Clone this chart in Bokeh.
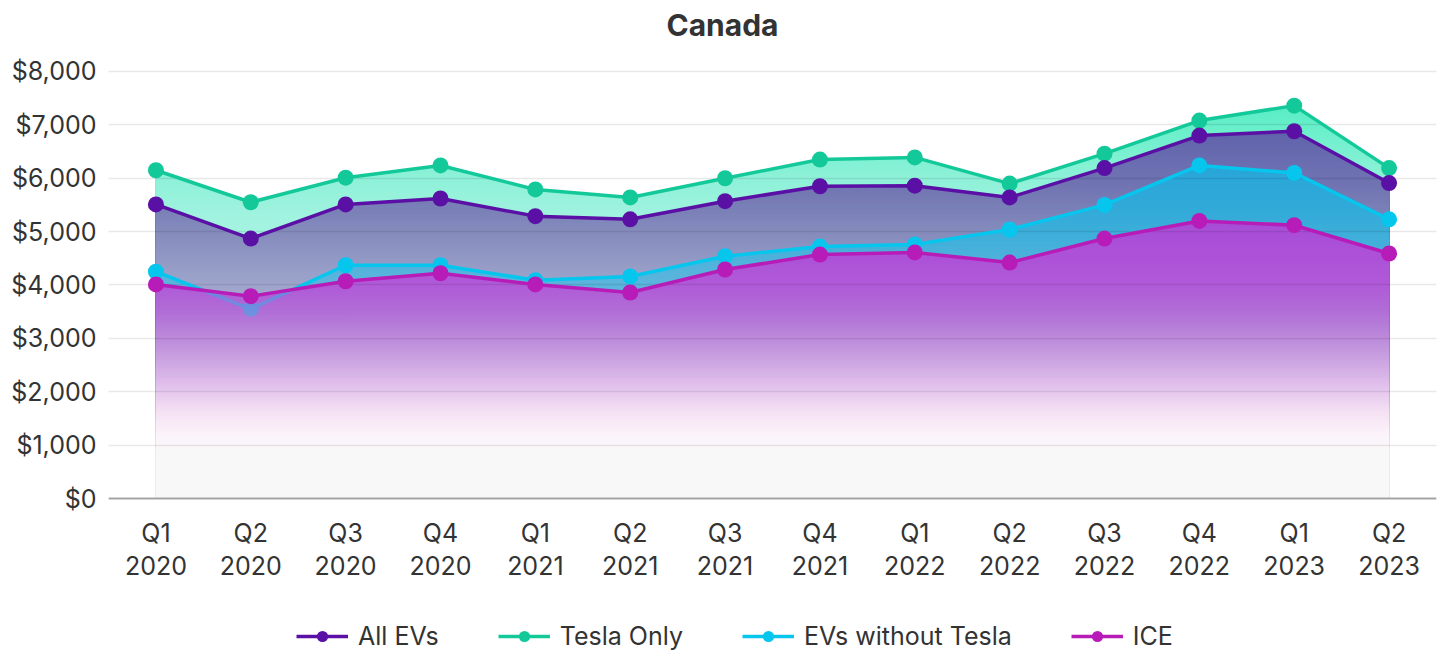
import numpy as np
from bokeh.plotting import figure
from bokeh.models import (Range1d, FixedTicker, NumeralTickFormatter, Legend,
                          LegendItem)
from bokeh.embed import file_html
from bokeh.resources import INLINE

# ---------------- data ----------------
quarters = ["Q1\n2020", "Q2\n2020", "Q3\n2020", "Q4\n2020",
            "Q1\n2021", "Q2\n2021", "Q3\n2021", "Q4\n2021",
            "Q1\n2022", "Q2\n2022", "Q3\n2022", "Q4\n2022",
            "Q1\n2023", "Q2\n2023"]
all_evs = [5510, 4870, 5510, 5620, 5290, 5230, 5570, 5850, 5860, 5640, 6190, 6800, 6880, 5910]
tesla_only = [6150, 5550, 6010, 6240, 5790, 5640, 6000, 6350, 6390, 5900, 6460, 7080, 7360, 6190]
evs_without_tesla = [4250, 3550, 4370, 4370, 4090, 4160, 4540, 4720, 4760, 5040, 5500, 6240, 6100, 5230]
ice = [4010, 3790, 4070, 4220, 4010, 3860, 4290, 4570, 4610, 4420, 4870, 5200, 5120, 4590]
y_ticks = [0, 1000, 2000, 3000, 4000, 5000, 6000, 7000, 8000]

x = list(range(len(quarters)))

# ---------------- styling helpers ----------------
def hex2rgb(h):
    h = h.lstrip("#")
    return np.array([int(h[i:i + 2], 16) for i in (0, 2, 4)], dtype=float)

def grad_color(stops, v):
    vals = np.array([s[0] for s in stops], dtype=float)
    cols = np.array([hex2rgb(s[1]) for s in stops])
    order = np.argsort(vals)
    vals, cols = vals[order], cols[order]
    rgb = [np.interp(v, vals, cols[:, k]) for k in range(3)]
    return "#%02x%02x%02x" % tuple(int(round(c)) for c in rgb)

def refine(xs, ys, levels):
    """Polyline vertices plus its exact crossings of the given levels."""
    ox, oy = [], []
    for i in range(len(xs) - 1):
        x0, y0, x1, y1 = xs[i], ys[i], xs[i + 1], ys[i + 1]
        ox.append(x0); oy.append(y0)
        ts = sorted((L - y0) / (y1 - y0) for L in levels
                    if (y0 - L) * (y1 - L) < 0)
        for t in ts:
            ox.append(x0 + t * (x1 - x0)); oy.append(y0 + t * (y1 - y0))
    ox.append(xs[-1]); oy.append(ys[-1])
    return ox, np.array(oy, dtype=float)

def gradient_area(p, xs, ys, stops, bottom, step=40):
    top = np.ceil(max(ys) / step) * step
    levels = list(np.arange(top, bottom, -step)) + [bottom]
    pxs, pys, cols = [], [], []
    for b in levels:
        ox, oy = refine(xs, ys, [b])
        oy = list(np.minimum(oy, b))
        pxs.append(ox + ox[::-1])
        pys.append(oy + [0] * len(oy))
        cols.append(grad_color(stops, b - step / 2 if b > bottom else bottom / 2))
    p.patches(pxs, pys, fill_color=cols, line_color=None)

def translucent_band(p, xs, ys, stops, lowest, alpha, step=40):
    top = np.ceil(max(ys) / step) * step
    his = np.arange(top, lowest, -step)
    ox, oy = refine(xs, ys, list(his) + [lowest])
    pxs, pys, cols = [], [], []
    for hi in his:
        lo = hi - step
        t = list(np.clip(oy, lo, hi))
        pxs.append(ox + ox[::-1])
        pys.append(t + [lo] * len(t))
        cols.append(grad_color(stops, hi - step / 2))
    p.patches(pxs, pys, fill_color=cols, fill_alpha=alpha, line_color=None,
              level="overlay")

# ---------------- figure ----------------
FONT = "Inter"
p = figure(width=1442, height=651, output_backend="svg", toolbar_location=None,
           x_range=Range1d(-0.5, 13.5), y_range=Range1d(-2866, 8468),
           min_border_left=108, min_border_right=6, min_border_top=0,
           min_border_bottom=0)
p.outline_line_color = None
p.background_fill_color = "white"

p.title.text = "Canada"
p.title.align = "left"
p.title.offset = 558
p.title.text_font = FONT
p.title.text_font_size = "30px"
p.title.text_font_style = "bold"
p.title.text_color = "#333333"
p.title.standoff = 8

C_ALL = "#5b10a5"
C_TESLA = "#14c999"
C_EVS = "#06c6ee"
C_ICE = "#b81cb8"

tesla_stops = [(7400, "#55edc4"), (6800, "#6ff0cc"), (6000, "#8ef1d8"),
               (5200, "#a2f3e0"), (3500, "#b0f5e6")]
all_stops = [(6900, "#5f62ab"), (6300, "#6a6db0"), (5800, "#7275b2"),
             (5200, "#7f86ba"), (4600, "#8f96c2"), (4000, "#9ea4cb"), (3500, "#a6acd0")]
evs_stops = [(6300, "#27a5d8"), (5500, "#30a9d8"), (4800, "#42b0da"),
             (4200, "#58b4dc"), (3500, "#66b8de")]
ice_stops = [(5250, "#a64cd6"), (4500, "#ad52d8"), (4000, "#b05ad8"),
             (3500, "#b06ed6"), (3000, "#bb8ada"), (2500, "#cfa9e3"),
             (2000, "#e6c8ee"), (1600, "#f5e2f4"), (1200, "#fbf3fa"),
             (900, "#f9f8f9"), (0, "#f8f8f8")]

gradient_area(p, x, tesla_only, tesla_stops, 3500)
gradient_area(p, x, all_evs, all_stops, 3500)
gradient_area(p, x, evs_without_tesla, evs_stops, 3500)
gradient_area(p, x, ice, ice_stops, 900)

series = [("All EVs", all_evs, C_ALL), ("Tesla Only", tesla_only, C_TESLA),
          ("EVs without Tesla", evs_without_tesla, C_EVS), ("ICE", ice, C_ICE)]
rend = {}
for name, ys, col in [series[1], series[0], series[2]]:
    ln = p.line(x, ys, line_color=col, line_width=3.5, level="overlay")
    sc = p.scatter(x, ys, size=16, fill_color=col, line_color=None, level="overlay")
    rend[name] = (ln, sc)

# ICE fill is translucent over the EV line where that line dips below it
translucent_band(p, x[0:3], ice[0:3], ice_stops, 3360, 0.65)

ln = p.line(x, ice, line_color=C_ICE, line_width=3.5, level="overlay")
sc = p.scatter(x, ice, size=16, fill_color=C_ICE, line_color=None, level="overlay")
rend["ICE"] = (ln, sc)
items = [LegendItem(label=name, renderers=list(rend[name])) for name, _, _ in series]

# axes
p.yaxis.ticker = FixedTicker(ticks=y_ticks, minor_ticks=[])
p.yaxis.formatter = NumeralTickFormatter(format="$0,0")
p.yaxis.axis_line_color = None
p.yaxis.major_tick_line_color = None
p.yaxis.minor_tick_line_color = None
p.yaxis.major_label_text_font = FONT
p.yaxis.major_label_text_font_size = "25px"
p.yaxis.major_label_text_color = "#333333"
p.yaxis.major_label_standoff = 6

p.xaxis.fixed_location = 0
p.xaxis.ticker = FixedTicker(ticks=x, minor_ticks=[])
p.xaxis.major_label_overrides = {i: q for i, q in zip(x, quarters)}
p.xaxis.axis_line_color = "#b3b3b3"
p.xaxis.axis_line_width = 2
p.xaxis.major_tick_line_color = None
p.xaxis.minor_tick_line_color = None
p.xaxis.major_label_text_font = FONT
p.xaxis.major_label_text_font_size = "25px"
p.xaxis.major_label_text_color = "#333333"
p.xaxis.major_label_text_line_height = 1.1
p.xaxis.major_label_standoff = 13

p.xgrid.visible = False
p.ygrid.grid_line_color = "black"
p.ygrid.grid_line_alpha = 0.09
p.ygrid.grid_line_width = 1.5
p.ygrid.level = "annotation"

legend = Legend(items=items, orientation="horizontal", location=(188, 0),
                padding=0, margin=0, spacing=59, glyph_width=52, glyph_height=28,
                label_standoff=10, label_text_font=FONT, label_text_font_size="25px",
                label_text_color="#333333", border_line_color=None,
                background_fill_alpha=0)
p.add_layout(legend, "center")

open("out.html", "w").write(file_html(p, INLINE))
